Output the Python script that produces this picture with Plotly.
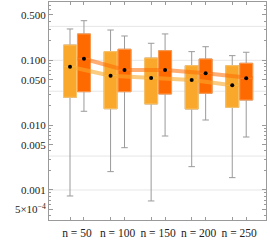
import plotly.graph_objects as go

groups = ["n = 50", "n = 100", "n = 150", "n = 200", "n = 250"]

# series A (light orange)
a_upper = [0.304, 0.293, 0.183, 0.136, 0.118]
a_q3 = [0.172, 0.136, 0.1085, 0.0826, 0.0826]
a_med = [0.0797, 0.0579, 0.0533, 0.0497, 0.0412]
a_q1 = [0.0269, 0.0179, 0.0212, 0.0177, 0.0188]
a_lower = [0.000808, 0.00192, 0.000677, 0.00229, 0.00155]

# series B (dark orange)
b_upper = [0.408, 0.237, 0.255, 0.162, 0.133]
b_q3 = [0.255, 0.148, 0.1406, 0.1047, 0.0899]
b_med = [0.1058, 0.0709, 0.0709, 0.0630, 0.0528]
b_q1 = [0.0328, 0.0328, 0.0302, 0.0310, 0.0244]
b_lower = [0.01636, 0.00449, 0.00680, 0.0120, 0.00656]

y_major = [0.5, 0.1, 0.05, 0.01, 0.005, 0.001, 0.0005]
y_major_text = ["0.500", "0.100", "0.050", "0.010", "0.005", "0.001", "5\u00d710<sup>\u22124</sup>"]
grid_vals = [1/3, 0.1, 1/30, 1/300, 0.001]

centers = list(range(1, len(groups) + 1))
off = 0.172
bw = 0.32
xa = [c - off for c in centers]
xb = [c + off for c in centers]

colA = "#F9A82B"
colB = "#FF6A00"
lineA = "#FCC46A"
lineB = "#FF9A4D"
gray = "#9a9a9a"

fig = go.Figure()

series = [
    (xa, a_upper, a_q3, a_med, a_q1, a_lower, colA, lineA, "rgba(249,168,43,0.6)"),
    (xb, b_upper, b_q3, b_med, b_q1, b_lower, colB, lineB, "rgba(255,106,0,0.55)"),
]

for xs, up, q3, med, q1, lo, col, lcol, trc in series:
    # whiskers (gray)
    fig.add_trace(go.Box(x=xs, q1=q1, q3=q3, median=med, lowerfence=lo, upperfence=up,
                         width=bw, whiskerwidth=0.5, fillcolor="rgba(0,0,0,0)",
                         line=dict(color=gray, width=1), boxpoints=False,
                         hoverinfo="skip", showlegend=False))
for xs, up, q3, med, q1, lo, col, lcol, trc in series:
    # boxes
    fig.add_trace(go.Box(x=xs, q1=q1, q3=q3, median=med, lowerfence=q1, upperfence=q3,
                         width=bw, whiskerwidth=0, fillcolor=col,
                         line=dict(color=lcol, width=1), boxpoints=False,
                         hoverinfo="skip", showlegend=False))

for xs, up, q3, med, q1, lo, col, lcol, trc in series:
    lx = [xs[0] - bw / 2] + xs + [xs[-1] + bw / 2]
    ly = [med[0]] + med + [med[-1]]
    fig.add_trace(go.Scatter(x=lx, y=ly, mode="lines", line=dict(color=trc, width=4),
                             hoverinfo="skip", showlegend=False))

for xs, up, q3, med, q1, lo, col, lcol, trc in series:
    fig.add_trace(go.Scatter(x=xs, y=med, mode="markers",
                             marker=dict(color="black", size=4),
                             hoverinfo="skip", showlegend=False))

for g in grid_vals:
    fig.add_shape(type="line", xref="paper", yref="y", x0=0, x1=1, y0=g, y1=g,
                  line=dict(color="#e6e6e6", width=1), layer="below")

minor_y = []
for d in [0.0001, 0.001, 0.01, 0.1]:
    for k in [2, 3, 4, 6, 7, 8, 9]:
        minor_y.append(k * d)

fig.update_layout(
    width=270, height=252,
    margin=dict(l=49, r=4, t=2, b=32),
    plot_bgcolor="white", paper_bgcolor="white",
    boxmode="overlay",
    font=dict(family="Liberation Serif", size=11, color="#222"),
    xaxis=dict(range=[0.31, 5.66], tickmode="array", tickvals=centers, ticktext=groups,
               ticks="", showline=True, linecolor=gray, linewidth=1, mirror="ticks",
               showgrid=False, zeroline=False, ticklabelstandoff=2,
               tickfont=dict(size=11.5),
               minor=dict(tickmode="array", tickvals=xa + xb, ticks="inside",
                          ticklen=3, tickcolor=gray, showgrid=False)),
    yaxis=dict(type="log", range=[-3.463, -0.101], tickmode="array",
               tickvals=y_major, ticktext=y_major_text, ticks="inside", ticklen=4,
               tickcolor=gray, showline=True, linecolor=gray, linewidth=1,
               mirror="ticks", showgrid=False, zeroline=False,
               minor=dict(tickmode="array", tickvals=minor_y, ticks="inside",
                          ticklen=2, tickcolor=gray, showgrid=False)),
)

fig.write_html("out.html", config={"displayModeBar": False},
               post_script="document.body.style.margin='0';document.body.style.overflow='hidden';")
